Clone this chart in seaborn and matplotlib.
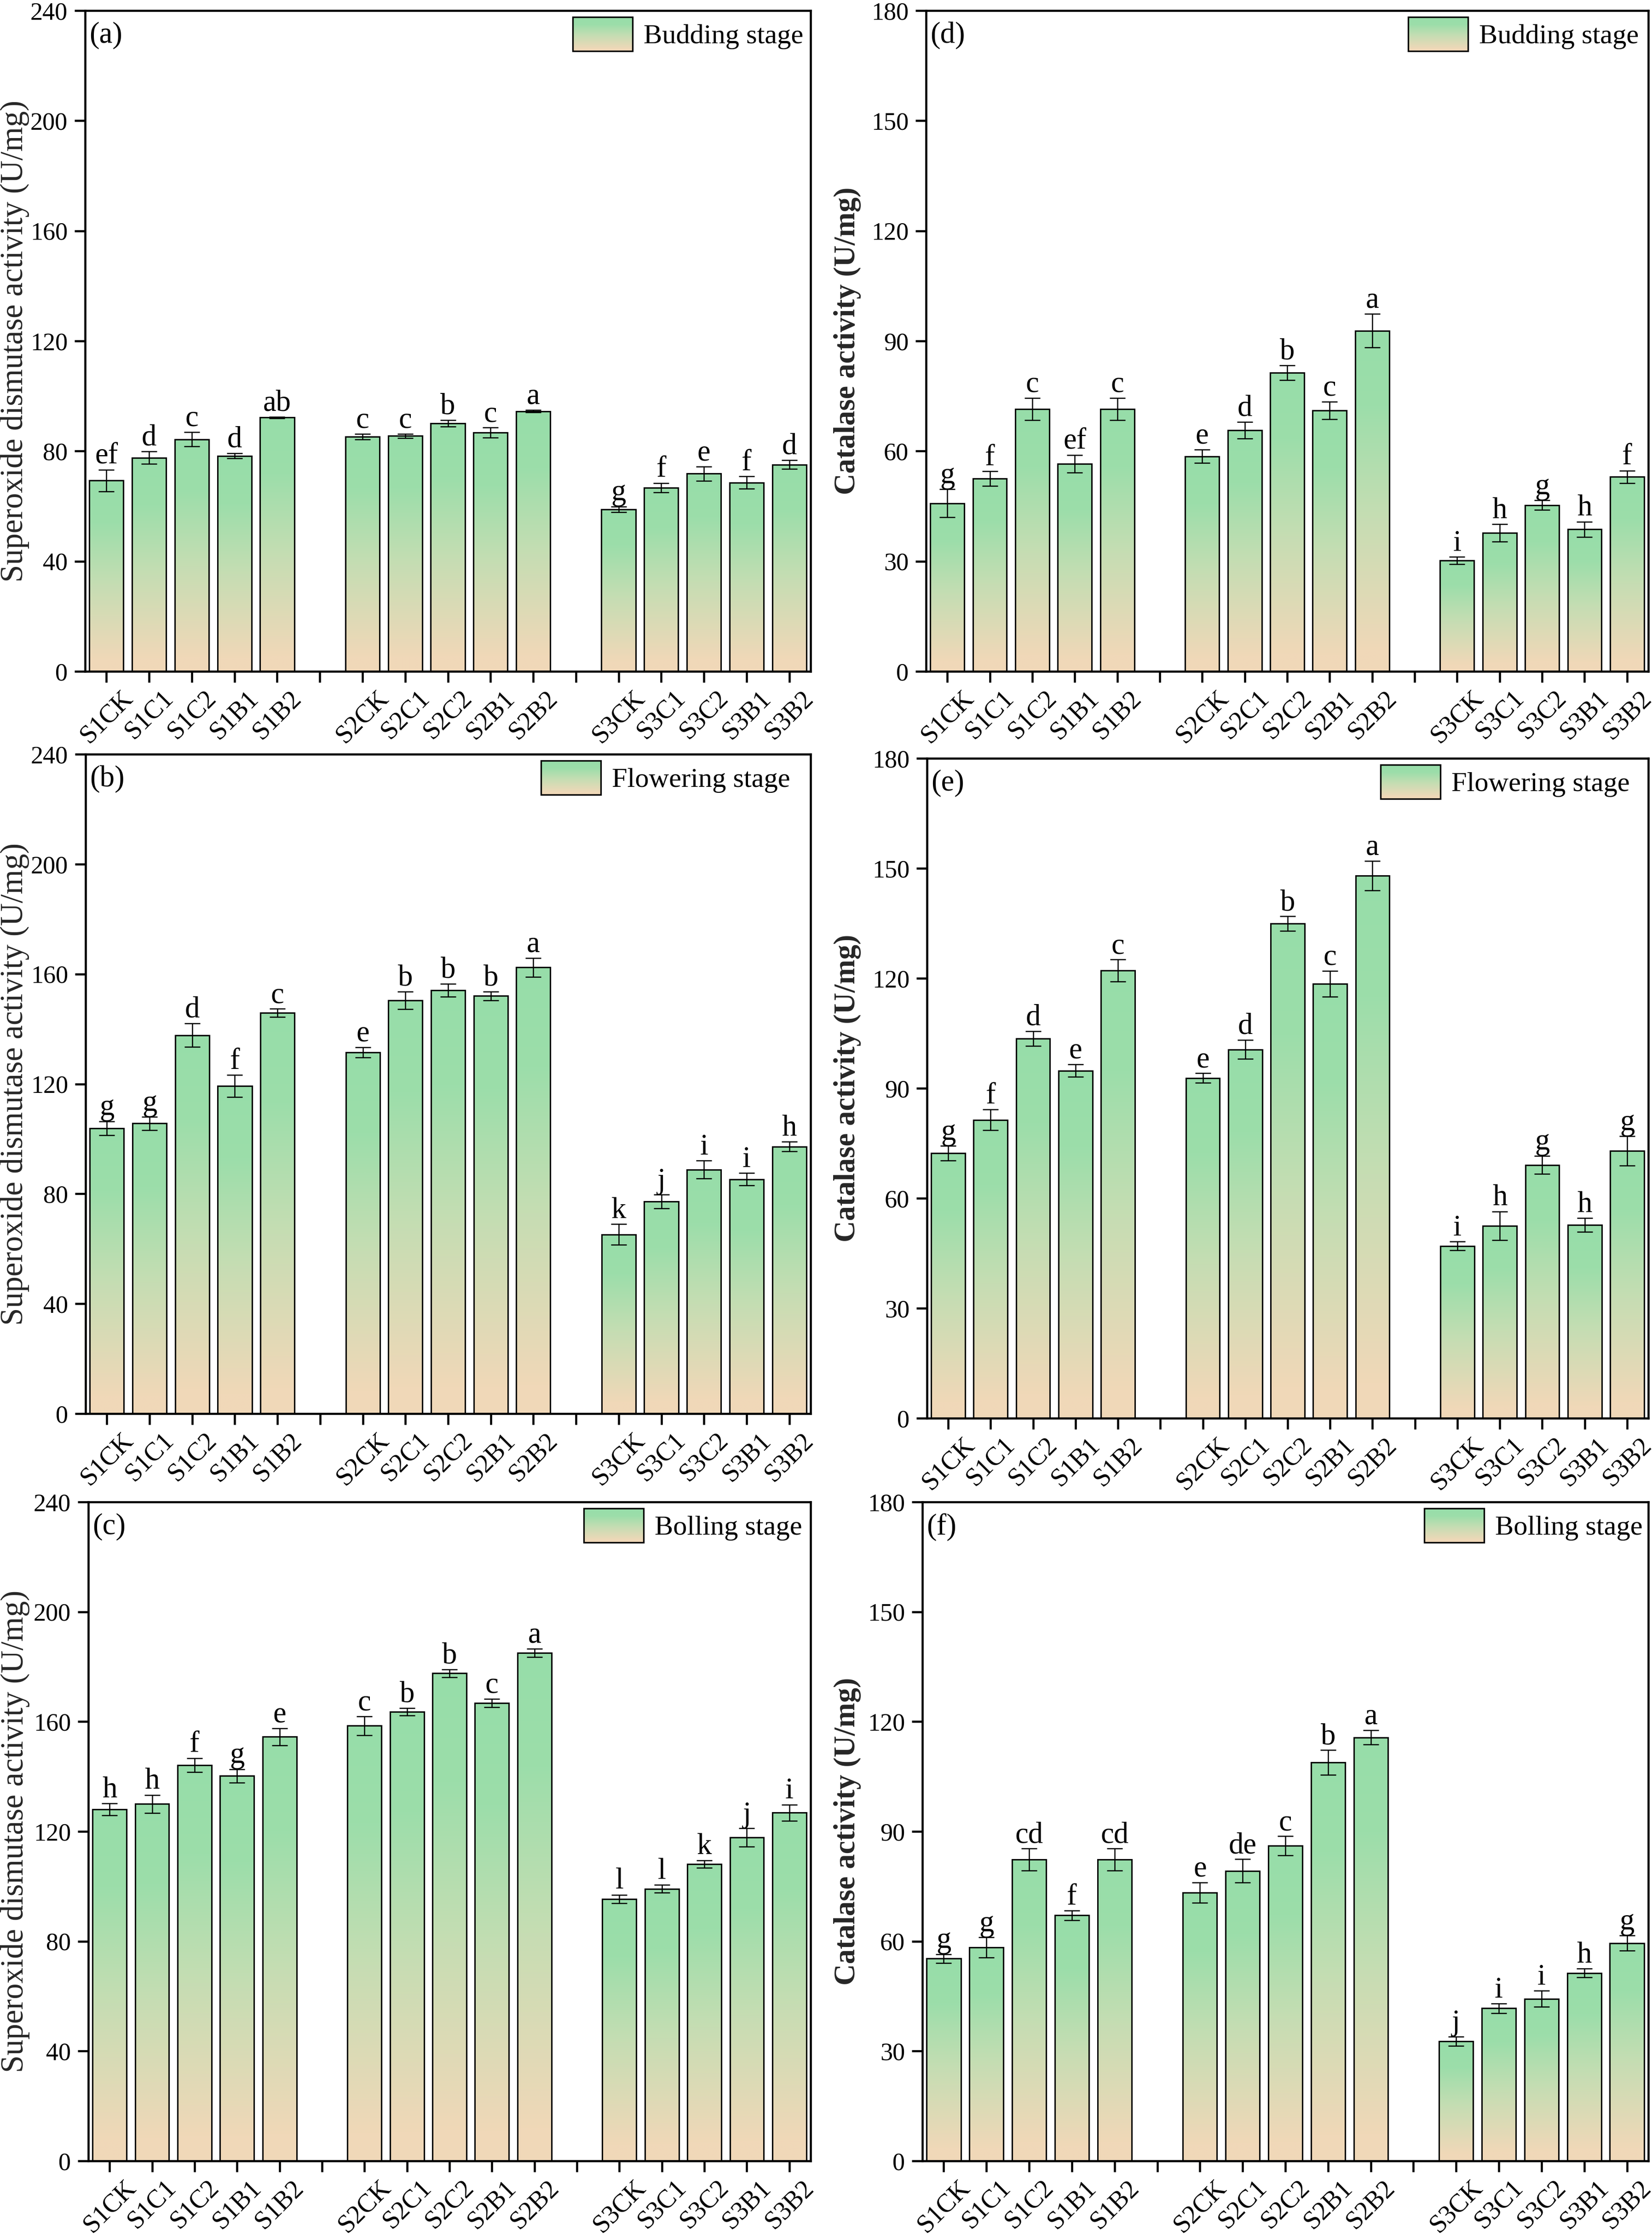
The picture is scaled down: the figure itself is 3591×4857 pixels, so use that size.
import numpy as np
import pandas as pd
import matplotlib
matplotlib.use("Agg")
import matplotlib.pyplot as plt
import seaborn as sns
from matplotlib.patches import Rectangle
from matplotlib.colors import LinearSegmentedColormap, Normalize
from matplotlib.image import BboxImage
from matplotlib.transforms import Bbox, TransformedBbox, ScaledTranslation

# ---------------- data ----------------
labels = ["S1CK", "S1C1", "S1C2", "S1B1", "S1B2",
          "S2CK", "S2C1", "S2C2", "S2B1", "S2B2",
          "S3CK", "S3C1", "S3C2", "S3B1", "S3B2"]

sod_bud = [69.3, 77.6, 84.3, 78.3, 92.2, 85.3, 85.5, 90.1, 86.7, 94.5, 58.9, 66.7, 71.8, 68.6, 75.1]
sod_bud_sd = [3.9, 2.3, 2.6, 1.0, 0.3, 1.0, 0.8, 1.2, 1.8, 0.4, 1.0, 1.7, 2.6, 2.2, 1.6]
sod_bud_sig = ["ef", "d", "c", "d", "ab", "c", "c", "b", "c", "a", "g", "f", "e", "f", "d"]

sod_flo = [103.9, 105.6, 137.7, 119.2, 145.8, 131.5, 150.4, 154.1, 152.0, 162.4, 65.2, 77.2, 88.8, 85.3, 97.2]
sod_flo_sd = [2.5, 2.4, 4.3, 4.0, 1.5, 1.8, 3.2, 2.4, 1.6, 3.4, 3.8, 2.5, 3.3, 2.3, 1.7]
sod_flo_sig = ["g", "g", "d", "f", "c", "e", "b", "b", "b", "a", "k", "j", "i", "i", "h"]

sod_bol = [128.0, 130.0, 144.2, 140.2, 154.5, 158.5, 163.6, 177.6, 166.8, 185.0, 95.4, 99.1, 108.1, 117.8, 126.8]
sod_bol_sd = [2.2, 3.3, 2.5, 2.5, 3.1, 3.4, 1.4, 1.4, 1.5, 1.5, 1.5, 1.4, 1.4, 3.3, 3.0]
sod_bol_sig = ["h", "h", "f", "g", "e", "c", "b", "b", "c", "a", "l", "l", "k", "j", "i"]

cat_bud = [45.8, 52.5, 71.5, 56.5, 71.5, 58.6, 65.7, 81.4, 71.1, 92.8, 30.2, 37.7, 45.3, 38.7, 53.0]
cat_bud_sd = [3.8, 2.0, 3.0, 2.4, 3.0, 1.8, 2.3, 2.0, 2.4, 4.6, 1.0, 2.4, 1.3, 2.1, 1.7]
cat_bud_sig = ["g", "f", "c", "ef", "c", "e", "d", "b", "c", "a", "i", "h", "g", "h", "f"]

cat_flo = [72.3, 81.4, 103.6, 94.8, 122.1, 92.8, 100.6, 134.9, 118.5, 148.0, 47.0, 52.5, 69.1, 52.7, 72.9]
cat_flo_sd = [2.0, 2.8, 2.0, 1.7, 3.0, 1.3, 2.6, 2.0, 3.5, 4.0, 1.2, 3.9, 2.5, 1.9, 4.0]
cat_flo_sig = ["g", "f", "d", "e", "c", "e", "d", "b", "c", "a", "i", "h", "g", "h", "g"]

cat_bol = [55.3, 58.3, 82.3, 67.1, 82.3, 73.3, 79.2, 86.1, 108.8, 115.7, 32.7, 41.7, 44.3, 51.3, 59.5]
cat_bol_sd = [1.2, 2.8, 3.0, 1.3, 3.0, 2.8, 3.2, 2.6, 3.4, 2.0, 1.3, 1.3, 2.2, 1.2, 2.1]
cat_bol_sig = ["g", "g", "cd", "f", "cd", "e", "de", "c", "b", "a", "j", "i", "i", "h", "g"]

sod_yticks = [0, 40, 80, 120, 160, 200, 240]
cat_yticks = [0, 30, 60, 90, 120, 150, 180]
sod_label = "Superoxide dismutase activity (U/mg)"
cat_label = "Catalase activity (U/mg)"
stages = ["Budding stage", "Flowering stage", "Bolling stage"]
panel_tags = ["(a)", "(b)", "(c)", "(d)", "(e)", "(f)"]

# ---------------- style ----------------
sns.set_style("ticks")
plt.rcParams["font.family"] = ["Liberation Serif", "DejaVu Serif"]
plt.rcParams["axes.linewidth"] = 1.1
plt.rcParams["xtick.major.width"] = 1.1
plt.rcParams["ytick.major.width"] = 1.1
plt.rcParams["xtick.major.size"] = 5.8
plt.rcParams["ytick.major.size"] = 5.5
plt.rcParams["xtick.direction"] = "out"
plt.rcParams["ytick.direction"] = "out"
plt.rcParams["text.color"] = "black"
plt.rcParams["xtick.color"] = "black"
plt.rcParams["ytick.color"] = "black"
plt.rcParams["axes.edgecolor"] = "black"

cmap = LinearSegmentedColormap.from_list(
    "grad", [(0.0, "#F1D8B9"), (0.06, "#F0D8B8"), (0.45, "#C6DDB3"),
             (0.78, "#9CDEAA"), (1.0, "#97DDA9")])
grad = np.linspace(0, 1, 256).reshape(-1, 1)

gap_names = ["_gap1", "_gap2"]
order = labels[:5] + [gap_names[0]] + labels[5:10] + [gap_names[1]] + labels[10:]
tick_text = [t if not t.startswith("_gap") else "" for t in order]

W, H = 3591, 4857
DPI = 300
fig = plt.figure(figsize=(W / DPI, H / DPI), dpi=DPI)


def add_ax(left, right, top, bottom):
    return fig.add_axes([left / W, 1 - bottom / H, (right - left) / W, (bottom - top) / H])


panels = [
    # pixel box (left, right, top, bottom), values, sd, sig, yticks, ylabel, is_cat, stage, legend right gap px
    ((185, 1762, 23, 1459), sod_bud, sod_bud_sd, sod_bud_sig, sod_yticks, sod_label, False, 0, 10),
    ((186, 1762, 1639, 3072), sod_flo, sod_flo_sd, sod_flo_sig, sod_yticks, sod_label, False, 1, 38),
    ((192, 1762, 3264, 4696), sod_bol, sod_bol_sd, sod_bol_sig, sod_yticks, sod_label, False, 2, 12),
    ((2013, 3583, 23, 1459), cat_bud, cat_bud_sd, cat_bud_sig, cat_yticks, cat_label, True, 0, 15),
    ((2015, 3583, 1648, 3082), cat_flo, cat_flo_sd, cat_flo_sig, cat_yticks, cat_label, True, 1, 34),
    ((2005, 3583, 3264, 4696), cat_bol, cat_bol_sd, cat_bol_sig, cat_yticks, cat_label, True, 2, 6),
]

axes_info = []
for i, (box, vals, sds, sigs, yt, ylab, is_cat, st, lgap) in enumerate(panels):
    left, right, top, bottom = box
    wpx, hpx = right - left, bottom - top
    ax = add_ax(left, right, top, bottom)
    df = pd.DataFrame({"trt": labels, "val": vals, "sd": sds, "sig": sigs})
    sns.barplot(data=df, x="trt", y="val", order=order, ax=ax, width=0.8,
                color="white", edgecolor="black", linewidth=0.75,
                errorbar=None, saturation=1)

    centers = []
    for p in list(ax.patches):
        x0, w, h = p.get_x(), p.get_width(), p.get_height()
        im = ax.imshow(grad, extent=[x0, x0 + w, 0, h], origin="lower",
                       aspect="auto", cmap=cmap, norm=Normalize(0, 1),
                       interpolation="bilinear", zorder=p.get_zorder() - 0.05)
        im.set_clip_path(p)
        p.set_facecolor("none")
        centers.append(x0 + w / 2)
    centers = np.array(centers)

    ax.errorbar(centers, df["val"], yerr=df["sd"], fmt="none", ecolor="black",
                elinewidth=0.6, capsize=4, capthick=0.6, zorder=4)
    for xc, v, s, lab in zip(centers, df["val"], df["sd"], df["sig"]):
        ax.annotate(lab, (xc, v + s), xytext=(0, 3.2), textcoords="offset points",
                    ha="center", va="baseline", fontsize=15.5, zorder=5)

    ax.set_xlim(-0.5, len(order) - 0.5)
    ax.set_ylim(yt[0], yt[-1])
    ax.set_yticks(yt)
    ax.set_xticks(range(len(order)))
    ax.set_xticklabels(tick_text, rotation=45, ha="center", fontsize=13.5)
    shift = ScaledTranslation(-3.5 / 72, 0, fig.dpi_scale_trans)
    for tl in ax.get_xticklabels():
        tl.set_transform(tl.get_transform() + shift)
    ax.tick_params(axis="y", labelsize=13, pad=3.6)
    ax.tick_params(axis="x", pad=2)
    ax.tick_params(top=False, right=False)
    ax.set_xlabel("")
    for sp in ax.spines.values():
        sp.set_visible(True)
        sp.set_linewidth(1.1)
    if is_cat:
        ax.set_ylabel(ylab, fontsize=15.5, fontweight="bold", va="top")
        target = 1812
    else:
        ax.set_ylabel(ylab, fontsize=16.5, va="top")
        target = 1
    ax.yaxis.set_label_coords((target - left) / wpx, 0.5)

    ax.text(0.006, 0.983, panel_tags[i], transform=ax.transAxes,
            ha="left", va="top", fontsize=15.5)

    handle = Rectangle((0, 0), 1, 1, facecolor="none", edgecolor="black", linewidth=0.8)
    leg = ax.legend([handle], [stages[st]], loc="upper right", frameon=False,
                    bbox_to_anchor=(1 - lgap / wpx, 1 - 8 / hpx),
                    fontsize=14.5, handlelength=2.15, handleheight=1.5,
                    handletextpad=0.4, borderaxespad=0.0, borderpad=0.1)
    axes_info.append((ax, leg, left, wpx, target))

fig.canvas.draw()
renderer = fig.canvas.get_renderer()
for ax, leg, left, wpx, target in axes_info:
    # keep the y label clear of the tick labels
    lab = ax.yaxis.label
    lbb = lab.get_window_extent(renderer)
    tick_x = min(t.get_window_extent(renderer).x0 for t in ax.get_yticklabels() if t.get_text())
    if lbb.x1 > tick_x - 3:
        new_left = max(0, target - (lbb.x1 - (tick_x - 3)))
        ax.yaxis.set_label_coords((new_left - left) / wpx, 0.5)
        lbb = lab.get_window_extent(renderer)
        if lbb.x1 > tick_x - 2:
            lab.set_fontsize(lab.get_fontsize() * (tick_x - 2 - new_left) / (lbb.x1 - new_left))

    hp = leg.legend_handles[0]
    bb = hp.get_window_extent(renderer)
    inv = ax.transAxes.inverted()
    (x0, y0), (x1, y1) = inv.transform([[bb.x0, bb.y0], [bb.x1, bb.y1]])
    tb = TransformedBbox(Bbox.from_extents(x0, y0, x1, y1), ax.transAxes)
    bi = BboxImage(tb, cmap=cmap, norm=Normalize(0, 1), origin="lower",
                   interpolation="bilinear")
    bi.set_data(grad)
    bi.set_zorder(leg.get_zorder() - 0.5)
    ax.add_artist(bi)

fig.savefig("out.png", dpi=DPI)
